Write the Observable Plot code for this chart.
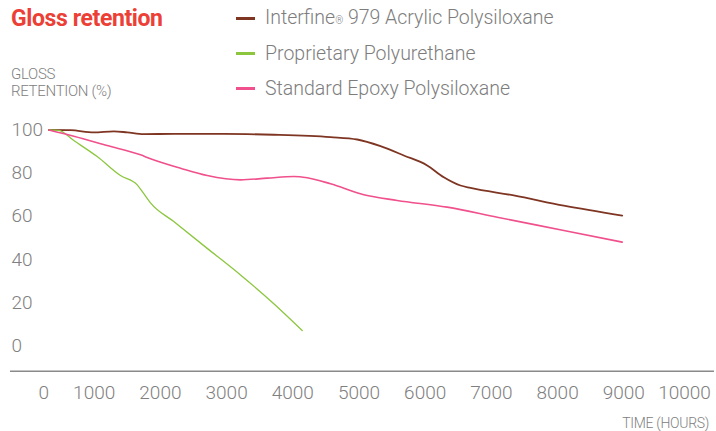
<!DOCTYPE html>
<html>
<head>
<meta charset="utf-8">
<script src="https://cdn.jsdelivr.net/npm/d3@7"></script>
<script src="https://cdn.jsdelivr.net/npm/@observablehq/plot@0.6"></script>
<style>
  html, body { margin: 0; padding: 0; background: #fff; }
  #wrap { position: relative; width: 716px; height: 431px; overflow: hidden; font-family: Roboto, "Liberation Sans", sans-serif; }
  #chart { position: absolute; left: 0; top: 0; }
  #chart svg text { font-weight: 300; }
  .title { position: absolute; left: 11px; top: 7px; font-size: 23px; line-height: 23px; font-weight: 700; color: #ec4036; letter-spacing: -0.4px; white-space: nowrap; }
  .ylab { position: absolute; left: 11px; top: 66px; font-size: 15px; line-height: 17px; font-weight: 300; color: #808080; white-space: nowrap; letter-spacing: -0.3px; }
  .xlab { position: absolute; right: 7px; top: 416px; font-size: 14px; line-height: 14px; font-weight: 300; color: #808080; white-space: nowrap; letter-spacing: -0.3px; }
  .legend { position: absolute; left: 236px; top: 1px; }
  .row { display: flex; align-items: center; height: 35px; }
  .sw { width: 19px; height: 3px; margin-right: 10px; }
  .lt { font-size: 19.5px; line-height: 35px; font-weight: 300; color: #7d7d7d; white-space: nowrap; }
  .reg { font-size: 10px; }
</style>
</head>
<body>
<div id="wrap">
  <div id="chart"></div>
  <div class="title">Gloss retention</div>
  <div class="ylab">GLOSS<br>RETENTION (%)</div>
  <div class="xlab">TIME (HOURS)</div>
  <div class="legend" id="legend"></div>
</div>
<script>
// ---- data ----
const seriesNames = ["Interfine® 979 Acrylic Polysiloxane", "Proprietary Polyurethane", "Standard Epoxy Polysiloxane"];
const seriesColors = ["#7e3522", "#8cc63f", "#f0508c"];
const seriesWidths = [1.8, 1.3, 1.6];

const interfineHours = [314, 642, 994, 1296, 1498, 1749, 2202, 2958, 3713, 4569, 4973, 5325, 5677, 6030, 6281, 6533, 6684, 7338, 8094, 8976];
const interfineGloss = [100, 99.9, 98.9, 99.4, 98.9, 98.1, 98.2, 98.2, 97.8, 96.7, 95.6, 92.5, 88.2, 83.6, 78.1, 74.3, 73.2, 69.7, 65.0, 60.4];

const polyurethaneHours = [314, 465, 692, 1045, 1397, 1650, 1749, 1850, 2202, 2707, 3210, 3713, 4142];
const polyurethaneGloss = [100, 99.8, 95.1, 87.7, 78.9, 74.6, 70.5, 66.3, 57.6, 45.2, 32.9, 19.6, 7.2];

const epoxyHours = [314, 692, 1196, 1699, 1850, 2304, 2707, 3210, 3613, 4015, 4218, 4569, 5073, 5577, 6332, 7088, 8094, 8976];
const epoxyGloss = [100, 97.1, 92.8, 88.5, 86.7, 82.3, 78.9, 76.9, 77.7, 78.5, 77.9, 75.1, 70.0, 67.4, 64.3, 59.6, 53.5, 48.1];

const yTicks = [0, 20, 40, 60, 80, 100];
const xTicksMid = [1000, 2000, 3000, 4000, 5000, 6000, 7000, 8000, 9000];
const xTickFirst = [0];
const xTickLast = [10000];
const axisLineValue = [-11.7];

// ---- build table ----
const hoursBySeries = [interfineHours, polyurethaneHours, epoxyHours];
const glossBySeries = [interfineGloss, polyurethaneGloss, epoxyGloss];
const rows = [];
seriesNames.forEach((name, i) => {
  hoursBySeries[i].forEach((h, j) => rows.push({series: name, hours: h, gloss: glossBySeries[i][j]}));
});

const tickFont = {fontSize: 19, color: "#808080", label: null, tickSize: 0};

const chart = Plot.plot({
  width: 716,
  height: 431,
  marginLeft: 27.5,
  marginRight: 26.5,
  marginTop: 129.5,
  marginBottom: 85.5,
  style: {background: "transparent", fontFamily: "Roboto, 'Liberation Sans', sans-serif"},
  x: {domain: [0, 10000]},
  y: {domain: [0, 100]},
  marks: [
    Plot.ruleY(axisLineValue, {stroke: "#8a8a8a", strokeWidth: 1.5, insetLeft: -17.5, insetRight: -24.5}),
    Plot.axisY({...tickFont, ticks: yTicks, tickPadding: 0, textAnchor: "start", dx: -16.5}),
    Plot.axisX({...tickFont, ticks: xTickFirst, tickPadding: 39.5, dx: 15.8}),
    Plot.axisX({...tickFont, ticks: xTicksMid, tickPadding: 39.5, tickFormat: d => String(d)}),
    Plot.axisX({...tickFont, ticks: xTickLast, tickPadding: 39.5, dx: -5.5, tickFormat: d => String(d)}),
    ...seriesNames.map((name, i) =>
      Plot.line(rows.filter(r => r.series === name), {
        x: "hours", y: "gloss", stroke: seriesColors[i], strokeWidth: seriesWidths[i], curve: "monotone-x"
      })
    )
  ]
});
document.getElementById("chart").appendChild(chart);

// ---- legend ----
const legend = document.getElementById("legend");
seriesNames.forEach((name, i) => {
  const row = document.createElement("div");
  row.className = "row";
  const sw = document.createElement("div");
  sw.className = "sw";
  sw.style.background = seriesColors[i];
  const lt = document.createElement("div");
  lt.className = "lt";
  if (name.includes("®")) {
    const parts = name.split("®");
    lt.append(parts[0]);
    const r = document.createElement("span");
    r.className = "reg";
    r.textContent = "®";
    lt.append(r);
    lt.append(parts[1]);
  } else {
    lt.textContent = name;
  }
  row.append(sw, lt);
  legend.append(row);
});
</script>
</body>
</html>
